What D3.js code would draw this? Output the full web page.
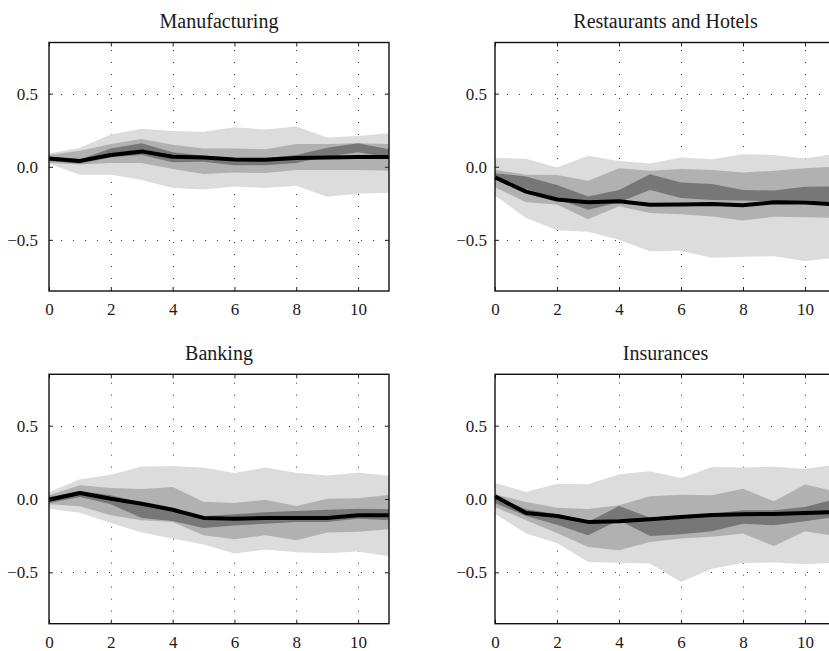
<!DOCTYPE html>
<html><head><meta charset="utf-8">
<script src="https://cdn.jsdelivr.net/npm/d3@7"></script>
<style>body{margin:0;background:#fff}svg{display:block}</style>
</head><body><svg id="c" width="829" height="651"></svg>
<script>
// ---- data ----
const horizons = [0,1,2,3,4,5,6,7,8,9,10,11];
const xTicks = [0,2,4,6,8,10];
const yTicks = [-0.5,0.0,0.5];
const panelTitles = ["Manufacturing","Restaurants and Hotels","Banking","Insurances"];

const mfgMedian  = [0.057,0.040,0.080,0.105,0.068,0.063,0.050,0.048,0.060,0.063,0.066,0.066];
const mfgOuterHi = [0.09,0.13,0.22,0.26,0.245,0.24,0.27,0.255,0.275,0.20,0.21,0.23];
const mfgOuterLo = [0.02,-0.055,-0.055,-0.09,-0.145,-0.155,-0.135,-0.145,-0.13,-0.205,-0.185,-0.178];
const mfgMidHi   = [0.08,0.11,0.155,0.19,0.15,0.125,0.125,0.12,0.155,0.155,0.16,0.155];
const mfgMidLo   = [0.025,0.015,0.025,0.025,-0.015,-0.05,-0.04,-0.043,-0.023,-0.023,-0.023,-0.027];
const mfgInnerHi = [0.068,0.05,0.125,0.16,0.1,0.075,0.06,0.06,0.08,0.13,0.16,0.12];
const mfgInnerLo = [0.04,0.02,0.065,0.08,0.03,0.035,0.01,0.01,0.025,0.07,0.1,0.063];

const rhMedian  = [-0.073,-0.17,-0.224,-0.243,-0.236,-0.26,-0.258,-0.254,-0.263,-0.243,-0.245,-0.258];
const rhOuterHi = [0.06,0.055,-0.005,0.075,0.04,0.022,0.063,0.052,0.086,0.08,0.057,0.09];
const rhOuterLo = [-0.197,-0.35,-0.435,-0.445,-0.5,-0.578,-0.575,-0.623,-0.615,-0.612,-0.644,-0.623];
const rhMidHi   = [-0.02,-0.055,-0.057,-0.095,-0.01,-0.027,-0.016,-0.023,-0.039,-0.027,-0.011,0.0];
const rhMidLo   = [-0.14,-0.243,-0.258,-0.36,-0.27,-0.317,-0.325,-0.34,-0.367,-0.342,-0.345,-0.349];
const rhInnerHi = [-0.045,-0.066,-0.125,-0.204,-0.159,-0.052,-0.107,-0.118,-0.159,-0.163,-0.136,-0.134];
const rhInnerLo = [-0.084,-0.152,-0.22,-0.295,-0.243,-0.159,-0.213,-0.227,-0.231,-0.236,-0.228,-0.254];

const bkMedian  = [-0.005,0.041,0.002,-0.032,-0.073,-0.129,-0.134,-0.129,-0.129,-0.129,-0.111,-0.111];
const bkOuterHi = [0.048,0.134,0.166,0.222,0.224,0.215,0.177,0.215,0.179,0.161,0.179,0.159];
const bkOuterLo = [-0.066,-0.093,-0.163,-0.229,-0.27,-0.31,-0.372,-0.345,-0.363,-0.37,-0.358,-0.39];
const bkMidHi   = [0.025,0.093,0.075,0.068,0.082,-0.018,-0.027,-0.005,-0.048,0.002,0.005,0.027];
const bkMidLo   = [-0.036,-0.05,-0.111,-0.145,-0.156,-0.247,-0.274,-0.247,-0.281,-0.229,-0.224,-0.206];
const bkInnerHi = [0.014,0.055,0.025,-0.025,-0.066,-0.118,-0.104,-0.091,-0.082,-0.073,-0.066,-0.07];
const bkInnerLo = [-0.027,0.014,-0.036,-0.13,-0.15,-0.197,-0.181,-0.168,-0.156,-0.156,-0.134,-0.145];

const insMedian  = [0.018,-0.095,-0.116,-0.156,-0.152,-0.138,-0.122,-0.109,-0.104,-0.102,-0.095,-0.088];
const insOuterHi = [0.109,0.048,0.104,0.1,0.168,0.19,0.143,0.218,0.215,0.22,0.205,0.236];
const insOuterLo = [-0.1,-0.236,-0.3,-0.43,-0.435,-0.44,-0.565,-0.476,-0.436,-0.433,-0.445,-0.433];
const insMidHi   = [0.032,-0.02,-0.059,-0.068,-0.043,0.018,0.029,0.025,0.07,-0.016,0.098,0.05];
const insMidLo   = [-0.054,-0.145,-0.231,-0.327,-0.349,-0.293,-0.27,-0.258,-0.236,-0.32,-0.22,-0.252];
const insInnerHi = [0.018,-0.07,-0.104,-0.156,-0.048,-0.127,-0.111,-0.1,-0.077,-0.077,-0.054,0.0];
const insInnerLo = [-0.027,-0.116,-0.175,-0.247,-0.145,-0.252,-0.24,-0.22,-0.168,-0.179,-0.152,-0.12];

const panels = [
  {title: panelTitles[0], median: mfgMedian, bands: [[mfgOuterLo,mfgOuterHi],[mfgMidLo,mfgMidHi],[mfgInnerLo,mfgInnerHi]], col:0, row:0},
  {title: panelTitles[1], median: rhMedian,  bands: [[rhOuterLo,rhOuterHi],[rhMidLo,rhMidHi],[rhInnerLo,rhInnerHi]], col:1, row:0},
  {title: panelTitles[2], median: bkMedian,  bands: [[bkOuterLo,bkOuterHi],[bkMidLo,bkMidHi],[bkInnerLo,bkInnerHi]], col:0, row:1},
  {title: panelTitles[3], median: insMedian, bands: [[insOuterLo,insOuterHi],[insMidLo,insMidHi],[insInnerLo,insInnerHi]], col:1, row:1}
];

// ---- layout ----
const colX = [[49,389],[495,836]];
const rowY = [[42.5,291],[374.3,623.7]];
const yLabelPad = [11,8];
const bandColors = ["#dcdcdc","#b1b1b1","#777777"];
const FONT = "'Liberation Serif','Times New Roman',serif";

const svg = d3.select("#c");

panels.forEach(p => {
  const [xl,xr] = colX[p.col];
  const [yt,yb] = rowY[p.row];
  const x = d3.scaleLinear().domain([0,11]).range([xl,xr]);
  const y = d3.scaleLinear().domain([-0.85,0.85]).range([yb,yt]);
  const g = svg.append("g");

  // grid (dotted)
  const grid = g.append("g").attr("stroke","#3a3a3a").attr("stroke-width",1).attr("stroke-dasharray","1,11");
  xTicks.filter(d=>d>0).forEach(d=>{
    grid.append("line").attr("x1",Math.round(x(d))+0.5).attr("x2",Math.round(x(d))+0.5).attr("y1",yb).attr("y2",yt);
  });
  yTicks.forEach(d=>{
    grid.append("line").attr("x1",xl).attr("x2",xr).attr("y1",Math.round(y(d))+0.5).attr("y2",Math.round(y(d))+0.5);
  });

  // bands
  p.bands.forEach((b,bi)=>{
    const area = d3.area()
      .x((d,i)=>x(horizons[i]))
      .y0((d,i)=>y(b[0][i]))
      .y1((d,i)=>y(b[1][i]));
    g.append("path").datum(horizons).attr("d",area).attr("fill",bandColors[bi]);
  });

  // median line
  const line = d3.line().x((d,i)=>x(horizons[i])).y((d,i)=>y(p.median[i]));
  g.append("path").datum(horizons).attr("d",line).attr("fill","none")
    .attr("stroke","#000").attr("stroke-width",4).attr("stroke-linejoin","round");

  // axes
  const styleAxis = sel => {
    sel.select(".domain").remove();
    sel.selectAll(".tick line").attr("stroke","#222").attr("stroke-width",1);
    sel.selectAll("text").attr("font-family",FONT).attr("font-size",17).attr("fill","#1a1a1a");
  };
  g.append("g").attr("transform",`translate(0,${yb})`)
    .call(d3.axisBottom(x).tickValues(xTicks).tickSizeInner(-4).tickSizeOuter(0).tickPadding(12).tickFormat(d3.format("d")))
    .call(styleAxis);
  g.append("g").attr("transform",`translate(0,${yt})`)
    .call(d3.axisTop(x).tickValues(xTicks).tickSizeInner(-4).tickSizeOuter(0).tickFormat(""))
    .call(styleAxis);
  g.append("g").attr("transform",`translate(${xl},0)`)
    .call(d3.axisLeft(y).tickValues(yTicks).tickSizeInner(-4).tickSizeOuter(0).tickPadding(yLabelPad[p.col]).tickFormat(d3.format(".1f")))
    .call(styleAxis);
  g.append("g").attr("transform",`translate(${xr},0)`)
    .call(d3.axisRight(y).tickValues(yTicks).tickSizeInner(-4).tickSizeOuter(0).tickFormat(""))
    .call(styleAxis);

  // frame
  g.append("rect").attr("x",xl).attr("y",yt).attr("width",xr-xl).attr("height",yb-yt)
    .attr("fill","none").attr("stroke","#111").attr("stroke-width",1.4);

  // title
  g.append("text").attr("x",(xl+xr)/2).attr("y",yt-14.5).attr("text-anchor","middle")
    .attr("font-family",FONT).attr("font-size",20).attr("fill","#1a1a1a").text(p.title);
});
</script></body></html>
